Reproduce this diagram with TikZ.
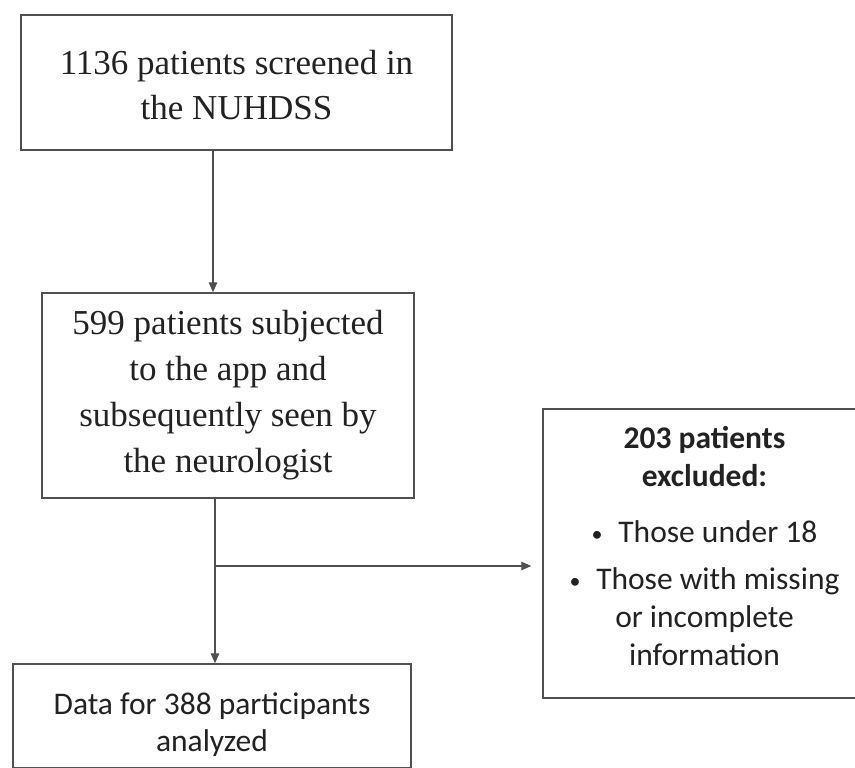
\documentclass[tikz,border=0pt]{standalone}
\usepackage{fontspec}
\usepackage{graphicx}
\setmainfont{Liberation Serif}
\newfontfamily\calfont{Carlito}
\usetikzlibrary{arrows.meta}
\definecolor{ink}{HTML}{222222}
\definecolor{edge}{HTML}{505050}
\newcommand{\bul}{\raisebox{0.5pt}{\scalebox{0.7}{•}}\hspace{0.5em}}
\tikzset{
  box/.style={draw=edge, line width=1.4pt, rectangle, inner sep=0pt, align=center, text=ink},
  serifbox/.style={box, font=\fontsize{35}{45}\selectfont},
  sansbox/.style={box, font=\calfont\fontsize{31.5}{37}\selectfont},
  arr/.style={draw=edge, line width=1.2pt, -{Triangle[length=10pt,width=8.5pt]}}
}
\begin{document}
\begin{tikzpicture}[x=1pt,y=-1pt]
\useasboundingbox (0,0) rectangle (855,768);
\node[serifbox, minimum width=431pt, minimum height=135pt] (b1) at (236.5,82.5)
  {\rule{0pt}{30pt}1136 patients screened in\\the NUHDSS};
\node[serifbox, font=\fontsize{35}{46}\selectfont, minimum width=372pt, minimum height=205pt] (b2) at (228,395.5)
  {599 patients subjected\\to the app and\\subsequently seen by\\the neurologist};
\node[sansbox, minimum width=398pt, minimum height=104pt] (b3) at (212,716)
  {\rule{0pt}{39pt}Data for 388 participants\\analyzed};
\node[sansbox, font=\calfont\fontsize{31.5}{38}\selectfont, minimum width=323pt, minimum height=289pt] (b4) at (704.5,553.5)
  {\textbf{203 patients}\\\textbf{excluded:}\\[18pt]
   \bul Those under 18\\[9pt]
   \bul Those with missing\\or incomplete\\information\rule[-16pt]{0pt}{16pt}};
\coordinate (c1) at (213,0);
\coordinate (c2) at (215,0);
\coordinate (j) at (215,566);
\draw[arr] (b1.south -| c1) -- (b2.north -| c1);
\draw[arr] (b2.south -| c2) -- (b3.north -| c2);
\draw[arr, shorten >=11pt] (j) -- (j -| b4.west);
\end{tikzpicture}
\end{document}
